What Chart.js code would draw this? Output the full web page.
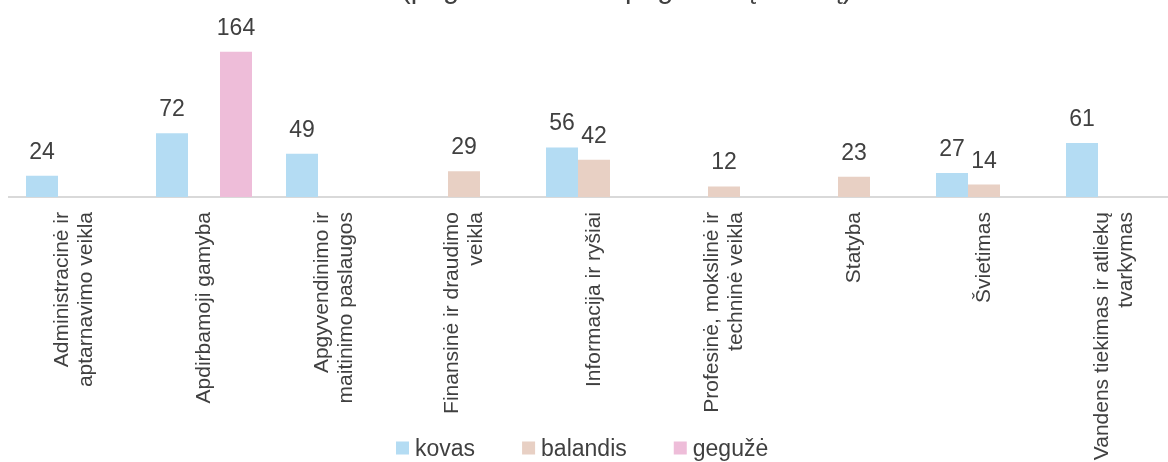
<!DOCTYPE html>
<html>
<head>
<meta charset="utf-8">
<script src="https://cdn.jsdelivr.net/npm/chart.js@4.4.1/dist/chart.umd.min.js"></script>
<style>
  html, body { margin: 0; padding: 0; background: #ffffff; overflow: hidden; }
  #wrap { position: relative; width: 1168px; height: 462px; overflow: hidden; }
  #title { position: absolute; left: 401px; top: -28px; font-family: "Liberation Sans", Arial, sans-serif; font-size: 29px; line-height: 33px; color: #404040; white-space: nowrap; }
  canvas { position: absolute; left: 0; top: 0; }
</style>
</head>
<body>
<div id="wrap">
  <canvas id="c" width="1190" height="462"></canvas>
  <div id="title">(pagal darbdavio pagrindinę veiklą)</div>
</div>
<script>
const categories = [
  ["Administracinė ir", "aptarnavimo veikla"],
  "Apdirbamoji gamyba",
  ["Apgyvendinimo ir", "maitinimo paslaugos"],
  ["Finansinė ir draudimo", "veikla"],
  "Informacija ir ryšiai",
  ["Profesinė, mokslinė ir", "techninė veikla"],
  "Statyba",
  "Švietimas",
  ["Vandens tiekimas ir atliekų", "tvarkymas"]
];
const seriesNames = ["kovas", "balandis", "gegužė"];
const kovas    = [24, 72, 49, null, 56, null, null, 27, 61];
const balandis = [null, null, null, 29, 42, 12, 23, 14, null];
const geguze   = [null, 164, null, null, null, null, null, null, null];
const colors = ["#B4DCF3", "#E8D0C4", "#EEBDD9"];

const FONT = '"Liberation Sans", Arial, sans-serif';
const TEXT = '#404040';

const valueLabels = {
  id: 'valueLabels',
  afterDatasetsDraw(chart) {
    const ctx = chart.ctx;
    ctx.save();
    ctx.font = '23px ' + FONT;
    ctx.fillStyle = TEXT;
    ctx.textAlign = 'center';
    ctx.textBaseline = 'alphabetic';
    chart.data.datasets.forEach((ds, i) => {
      const meta = chart.getDatasetMeta(i);
      meta.data.forEach((bar, j) => {
        const v = ds.data[j];
        if (v === null || v === undefined) return;
        ctx.fillText(String(v), bar.x, bar.y - 17);
      });
    });
    ctx.restore();
  }
};

const categoryLabels = {
  id: 'categoryLabels',
  afterDraw(chart) {
    const ctx = chart.ctx;
    const xs = chart.scales.x;
    const top = chart.chartArea.bottom + 15;
    const pitch = 24;
    ctx.save();
    ctx.font = '21px ' + FONT;
    ctx.fillStyle = TEXT;
    ctx.textAlign = 'right';
    ctx.textBaseline = 'middle';
    chart.data.labels.forEach((lab, i) => {
      const lines = Array.isArray(lab) ? lab : [lab];
      const cx = xs.getPixelForTick(i);
      lines.forEach((ln, k) => {
        const x = cx + (k - (lines.length - 1) / 2) * pitch;
        ctx.save();
        ctx.translate(x, top);
        ctx.rotate(-Math.PI / 2);
        ctx.fillText(ln, 0, 0);
        ctx.restore();
      });
    });
    ctx.restore();
  }
};

const customLegend = {
  id: 'customLegend',
  afterDraw(chart) {
    const ctx = chart.ctx;
    ctx.save();
    ctx.font = '23px ' + FONT;
    ctx.textBaseline = 'alphabetic';
    ctx.textAlign = 'left';
    let x = 396;
    const yBase = 455.5;
    chart.data.datasets.forEach((ds) => {
      ctx.fillStyle = ds.backgroundColor;
      ctx.fillRect(x, 441.5, 13, 13);
      ctx.fillStyle = TEXT;
      ctx.fillText(ds.label, x + 19, yBase);
      x += 19 + ctx.measureText(ds.label).width + 47;
    });
    ctx.restore();
  }
};

new Chart(document.getElementById('c'), {
  type: 'bar',
  data: {
    labels: categories,
    datasets: [
      { label: seriesNames[0], data: kovas, backgroundColor: colors[0] },
      { label: seriesNames[1], data: balandis, backgroundColor: colors[1] },
      { label: seriesNames[2], data: geguze, backgroundColor: colors[2] }
    ]
  },
  options: {
    responsive: false,
    animation: false,
    devicePixelRatio: 1,
    layout: { padding: { top: 20, left: 9, right: 11, bottom: 0 } },
    datasets: { bar: { barPercentage: 1.0, categoryPercentage: 0.7385 } },
    plugins: { legend: { display: false }, tooltip: { enabled: false }, title: { display: false } },
    scales: {
      x: {
        grid: { display: false, drawTicks: false },
        border: { display: true, color: '#D9D9D9', width: 2 },
        ticks: { display: false },
        afterFit(scale) { scale.height = 265; }
      },
      y: {
        display: false,
        min: 0, max: 200
      }
    }
  },
  plugins: [valueLabels, categoryLabels, customLegend]
});
</script>
</body>
</html>
